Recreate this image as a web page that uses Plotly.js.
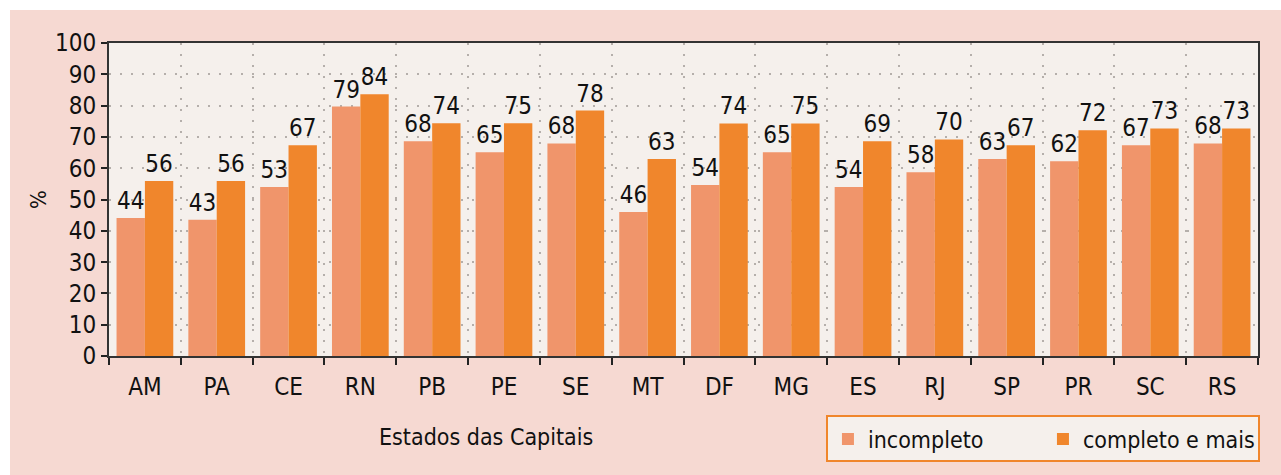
<!DOCTYPE html>
<html>
<head>
<meta charset="utf-8">
<script src="https://cdn.plot.ly/plotly-3.0.1.min.js"></script>
<style>
html,body{margin:0;padding:0;background:#ffffff;}
#chart{position:absolute;left:10px;top:10px;width:1271px;height:465px;}
</style>
</head>
<body>
<div id="chart"></div>
<script>
const categories = ["AM","PA","CE","RN","PB","PE","SE","MT","DF","MG","ES","RJ","SP","PR","SC","RS"];
const incompleto = [44.1,43.5,54.0,79.7,68.6,65.1,67.9,46.0,54.6,65.1,54.0,58.7,62.9,62.2,67.3,67.9];
const completo   = [55.9,55.9,67.3,83.6,74.4,74.4,78.4,62.9,74.3,74.3,68.6,69.2,67.3,72.1,72.7,72.7];
const incompletoLabels = ["44","43","53","79","68","65","68","46","54","65","54","58","63","62","67","68"];
const completoLabels   = ["56","56","67","84","74","75","78","63","74","75","69","70","67","72","73","73"];

const FONT = '"DejaVu Sans Condensed", "Liberation Sans Narrow", sans-serif';

const traces = [
  {type:'bar', name:'incompleto', x:categories, y:incompleto, text:incompletoLabels,
   textposition:'outside', textfont:{family:FONT, size:24, color:'#111'},
   marker:{color:'#f0956b'}, cliponaxis:false, hoverinfo:'x+y'},
  {type:'bar', name:'completo e mais', x:categories, y:completo, text:completoLabels,
   textposition:'outside', textfont:{family:FONT, size:24, color:'#111'},
   marker:{color:'#f0862c'}, cliponaxis:false, hoverinfo:'x+y'}
];

const layout = {
  width:1271, height:465,
  paper_bgcolor:'#f6d9d2', plot_bgcolor:'#f5f0ec',
  font:{family:FONT, size:24, color:'#111'},
  margin:{l:99, r:23, t:33, b:117},
  barmode:'group', bargap:0.21, bargroupgap:0,
  showlegend:true,
  legend:{orientation:'h', xanchor:'right', x:1.0017, yanchor:'top', y:-0.19,
          bgcolor:'#f5f0ec', bordercolor:'#f0862c', borderwidth:2,
          font:{family:FONT, size:23, color:'#111'}, itemwidth:30, entrywidth:170,
          traceorder:'normal'},
  xaxis:{type:'category', tickson:'boundaries', ticks:'outside', ticklen:7, tickwidth:2, tickcolor:'#222',
         showline:true, linecolor:'#333', linewidth:2, mirror:true,
         showgrid:true, gridcolor:'#b5afab', griddash:'2px,9px', gridwidth:1.5,
         ticklabelstandoff:8,
         tickfont:{family:FONT, size:24, color:'#111'}, fixedrange:true},
  yaxis:{range:[0,100], dtick:10, ticks:'outside', ticklen:6, tickwidth:2, tickcolor:'#222',
         showline:true, linecolor:'#333', linewidth:2, mirror:true,
         showgrid:true, gridcolor:'#b5afab', griddash:'2px,9px', gridwidth:1.5, zeroline:false,
         tickfont:{family:FONT, size:24, color:'#111'},
         title:{text:'%', font:{family:FONT, size:22, color:'#111'}, standoff:2}, fixedrange:true},
  annotations:[
    {text:'Estados das Capitais', xref:'paper', yref:'paper', x:0.328, y:-0.26,
     xanchor:'center', yanchor:'middle', showarrow:false,
     font:{family:FONT, size:23, color:'#111'}}
  ]
};

Plotly.newPlot('chart', traces, layout, {displayModeBar:false, staticPlot:false});
</script>
</body>
</html>
